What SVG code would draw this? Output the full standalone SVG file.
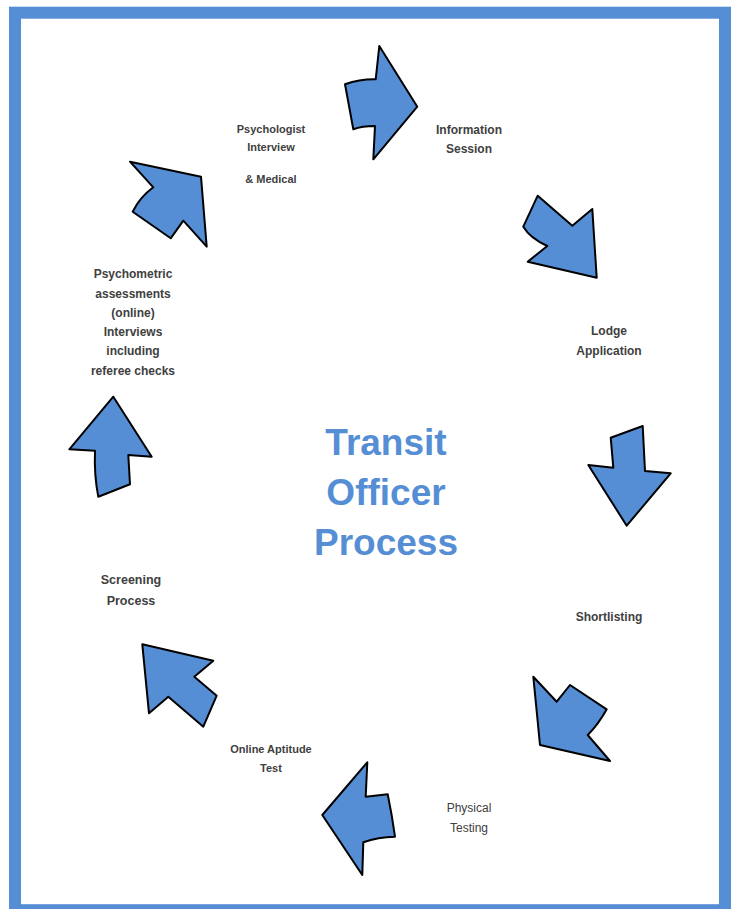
<svg xmlns="http://www.w3.org/2000/svg" width="736" height="909" viewBox="0 0 736 909">
<style>
.arrow{fill:#558ED5;stroke:#000;stroke-width:2;stroke-linejoin:round}
.lbl{font-family:"Liberation Sans",Arial,sans-serif;font-weight:bold;fill:#404040;text-anchor:middle}
.title{font-family:"Liberation Sans",Arial,sans-serif;font-weight:bold;fill:#558ED5;text-anchor:middle;font-size:37px}
</style>
<rect x="0" y="0" width="736" height="909" fill="#fff"/>
<rect x="15" y="12.7" width="710" height="897.5" fill="none" stroke="#558ED5" stroke-width="12"/>
<g id="connectors">
<path id="a1" class="arrow" d="M345,84.3 Q360,79 375.7,79.3 L379.3,46 L417.3,106.7 L373.3,159.3 L375,126 Q362,126 353.3,129.3 Z"/>
<path id="a2" class="arrow" d="M537.7,195.7 L572.3,225.7 L592.3,209 L596.7,277.7 L527.7,261.7 L547.3,246 Q530,238 523.3,226.7 Z"/>
<path id="a3" class="arrow" d="M610.7,437.7 L642.7,426 L645,471 L670.7,473.3 L626.7,525.7 L588.3,465 L613.3,467.7 Z"/>
<path id="a4" class="arrow" d="M533.3,676.7 L556.7,701.7 L570,685 L606.7,709.3 Q598,725 587.7,735 L610,761 L540,745 Z"/>
<path id="a5" class="arrow" d="M367.3,762.3 L365.7,796.7 L387.7,794.3 Q392,815 395,836.7 Q378,837 363.3,842.3 L362.3,875 L322.3,815 Z"/>
<path id="a6" class="arrow" d="M142.3,644.3 L213.3,660.7 L194.3,676.7 L216.7,695.7 L203.3,726.7 L168.3,696.7 L149,713.3 Z"/>
<path id="a7" class="arrow" d="M113.3,396.7 L151.7,456.7 L128.3,455 L130,484.3 L98.3,496.7 Q94,475 95,450.7 L69.3,449.3 Z"/>
<path id="a8" class="arrow" d="M130,161.7 L201,176.7 L206.7,246.7 L183.3,220.7 L170.7,238.3 L132.7,211.7 Q140,197 153.3,187.3 Z"/>
</g>
<g id="title">
<text class="title" x="386" y="455">Transit</text>
<text class="title" x="386" y="505">Officer</text>
<text class="title" x="386" y="555">Process</text>
</g>
<g id="info">
<text class="lbl" font-size="12" x="469" y="133.5">Information</text>
<text class="lbl" font-size="12" x="469" y="152.5">Session</text>
</g>
<g id="lodge">
<text class="lbl" font-size="12" x="609" y="334.5">Lodge</text>
<text class="lbl" font-size="12" x="609" y="354.5">Application</text>
</g>
<g id="short">
<text class="lbl" font-size="12" x="609" y="620.5">Shortlisting</text>
</g>
<g id="physical">
<text font-family="'Liberation Sans',Arial,sans-serif" fill="#404040" text-anchor="middle" font-size="12" x="469" y="812">Physical</text>
<text font-family="'Liberation Sans',Arial,sans-serif" fill="#404040" text-anchor="middle" font-size="12" x="469" y="832">Testing</text>
</g>
<g id="online">
<text class="lbl" font-size="11" x="271" y="753">Online Aptitude</text>
<text class="lbl" font-size="11" x="271" y="772">Test</text>
</g>
<g id="screening">
<text class="lbl" font-size="12.5" x="131" y="583.5">Screening</text>
<text class="lbl" font-size="12.5" x="131" y="604.5">Process</text>
</g>
<g id="psychometric">
<text class="lbl" font-size="12" x="133" y="278">Psychometric</text>
<text class="lbl" font-size="12" x="133" y="297.5">assessments</text>
<text class="lbl" font-size="12" x="133" y="317">(online)</text>
<text class="lbl" font-size="12" x="133" y="336">Interviews</text>
<text class="lbl" font-size="12" x="133" y="355">including</text>
<text class="lbl" font-size="12" x="133" y="374.5">referee checks</text>
</g>
<g id="psychologist">
<text class="lbl" font-size="11" x="271" y="133">Psychologist</text>
<text class="lbl" font-size="11" x="271" y="151">Interview</text>
<text class="lbl" font-size="11" x="271" y="183">&amp; Medical</text>
</g>
</svg>
